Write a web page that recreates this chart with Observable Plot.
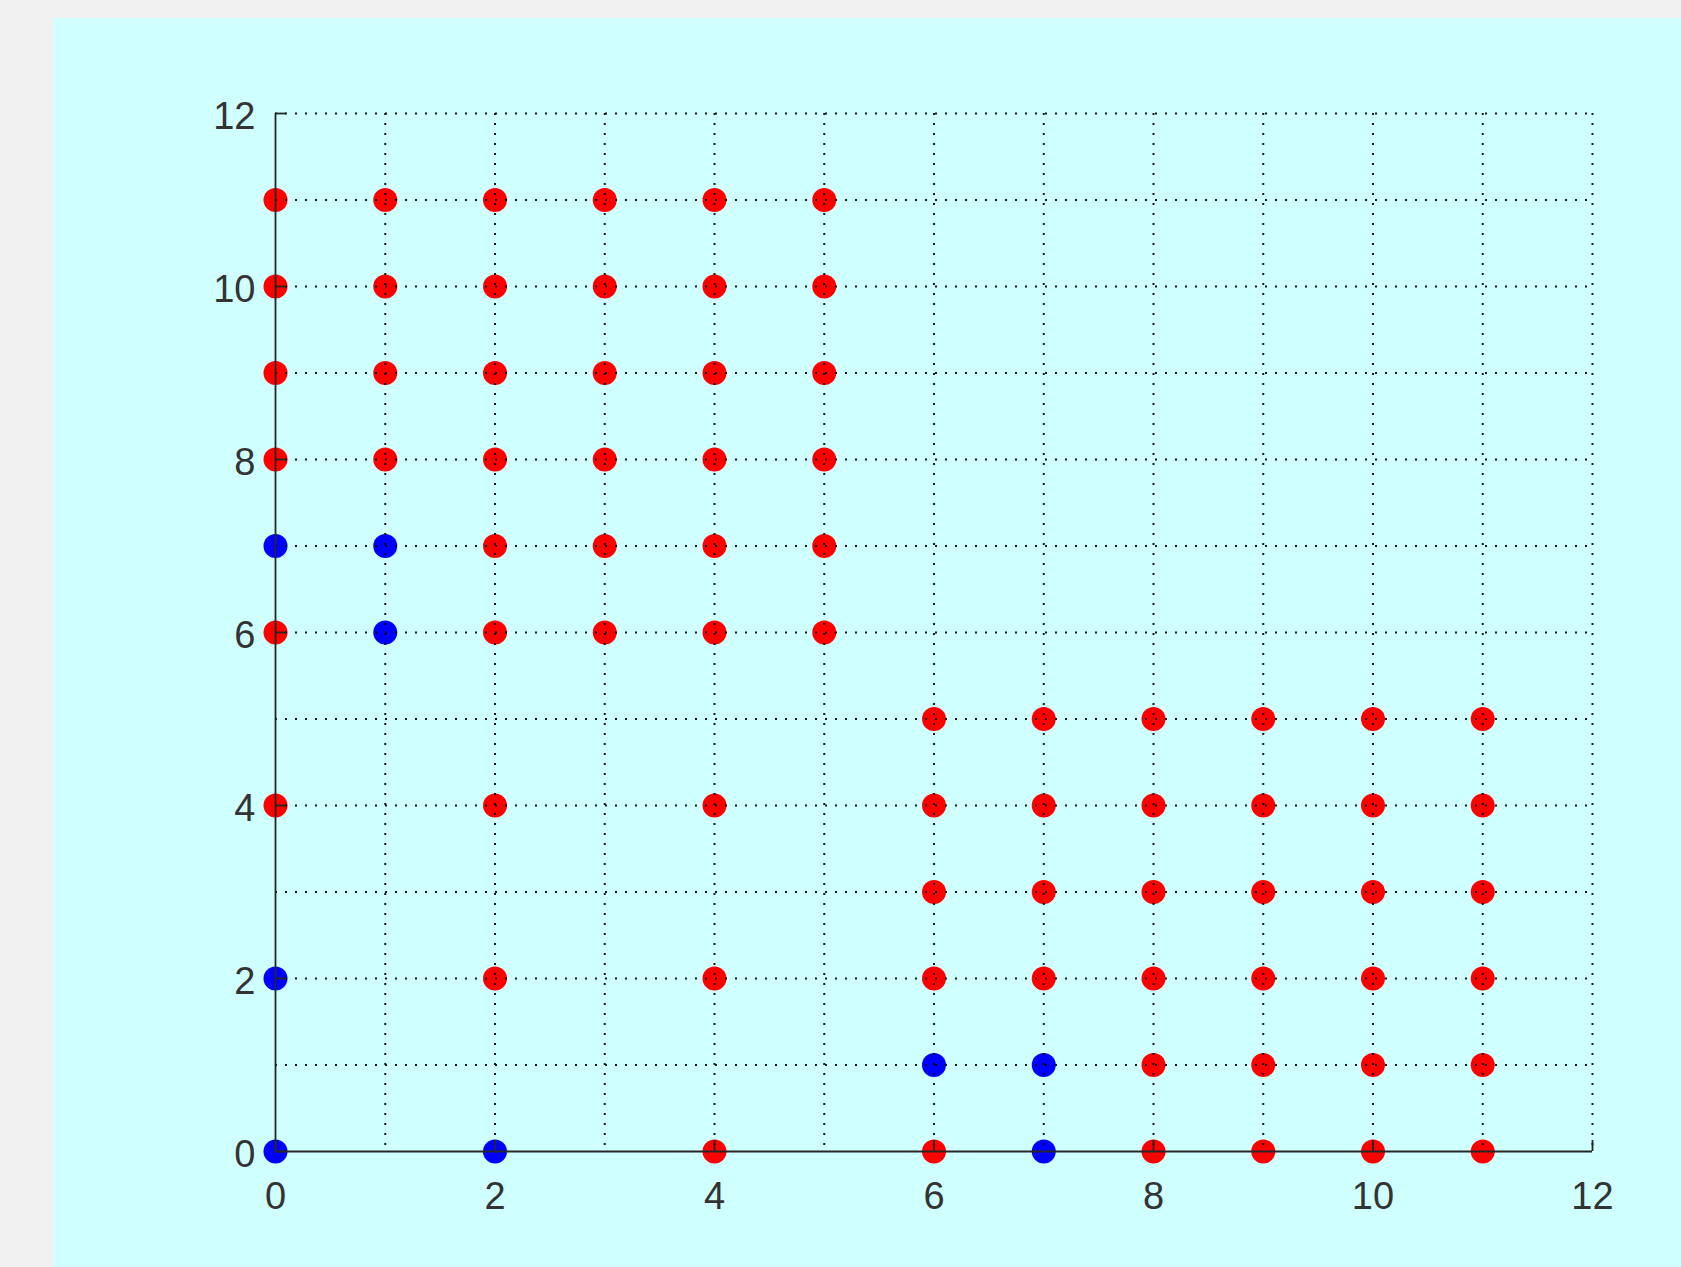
<!DOCTYPE html>
<html>
<head>
<meta charset="utf-8">
<script src="https://cdn.jsdelivr.net/npm/d3@7"></script>
<script src="https://cdn.jsdelivr.net/npm/@observablehq/plot@0.6"></script>
<style>
  html, body { margin: 0; padding: 0; background: #f0f0f0; width: 1681px; height: 1267px; overflow: hidden; }
  #panel { position: absolute; left: 53px; top: 18px; width: 1628px; height: 1249px; background: #cfffff; }
  #chart { position: absolute; left: 0; top: 0; }
</style>
</head>
<body>
<div id="panel"></div>
<div id="chart"></div>
<script>
// Data
const redPoints = [
  [0,11],[0,10],[0,9],[0,8],[0,6],[0,4],
  [1,11],[1,10],[1,9],[1,8],
  [2,11],[2,10],[2,9],[2,8],[2,7],[2,6],[2,4],[2,2],
  [3,11],[3,10],[3,9],[3,8],[3,7],[3,6],
  [4,11],[4,10],[4,9],[4,8],[4,7],[4,6],[4,4],[4,2],[4,0],
  [5,11],[5,10],[5,9],[5,8],[5,7],[5,6],
  [6,5],[6,4],[6,3],[6,2],[6,0],
  [7,5],[7,4],[7,3],[7,2],
  [8,5],[8,4],[8,3],[8,2],[8,1],[8,0],
  [9,5],[9,4],[9,3],[9,2],[9,1],[9,0],
  [10,5],[10,4],[10,3],[10,2],[10,1],[10,0],
  [11,5],[11,4],[11,3],[11,2],[11,1],[11,0]
];
const bluePoints = [
  [0,7],[0,2],[0,0],
  [1,7],[1,6],
  [2,0],
  [6,1],
  [7,1],[7,0]
];
const xTicks = [0,2,4,6,8,10,12];
const yTicks = [0,2,4,6,8,10,12];
const gridValues = [1,2,3,4,5,6,7,8,9,10,11,12];
const xDomain = [0,12];
const yDomain = [0,12];

const ink = "#262626";
const labelInk = "#333333";
const gridStyle = {stroke: "#000", strokeOpacity: 0.9, strokeWidth: 2, strokeDasharray: "2,8"};
const fmt = d3.format("d");

const chart = Plot.plot({
  width: 1681,
  height: 1267,
  marginLeft: 275,
  marginRight: 89,
  marginTop: 113,
  marginBottom: 116,
  style: {background: "transparent", fontFamily: "'Liberation Sans', Arial, sans-serif", fontSize: "38px", color: ink},
  x: {domain: xDomain},
  y: {domain: yDomain},
  marks: [
    Plot.dot(redPoints, {x: d => d[0], y: d => d[1], r: 12, fill: "#ff0000", stroke: "none"}),
    Plot.dot(bluePoints, {x: d => d[0], y: d => d[1], r: 12, fill: "#0000ff", stroke: "none"}),
    Plot.gridX(gridValues, {...gridStyle}),
    Plot.gridY(gridValues, {...gridStyle}),
    Plot.ruleX([xDomain[0]], {stroke: ink, strokeWidth: 1.8}),
    Plot.ruleY([yDomain[0]], {stroke: ink, strokeWidth: 1.8}),
    // inward tick marks
    Plot.axisX(xTicks, {anchor: "bottom", tickSize: 11, dy: -11, text: null, stroke: ink, strokeWidth: 1.8}),
    Plot.axisY(yTicks, {anchor: "left", tickSize: 11, dx: 11, text: null, stroke: ink, strokeWidth: 1.8}),
    // tick labels
    Plot.axisX(xTicks, {anchor: "bottom", tickSize: 0, tickPadding: 31, label: null, tickFormat: fmt, fill: labelInk, fontSize: 38}),
    Plot.axisY(yTicks, {anchor: "left", tickSize: 0, tickPadding: 20, dy: 3, label: null, tickFormat: fmt, fill: labelInk, fontSize: 38})
  ]
});
document.getElementById("chart").appendChild(chart);
</script>
</body>
</html>
